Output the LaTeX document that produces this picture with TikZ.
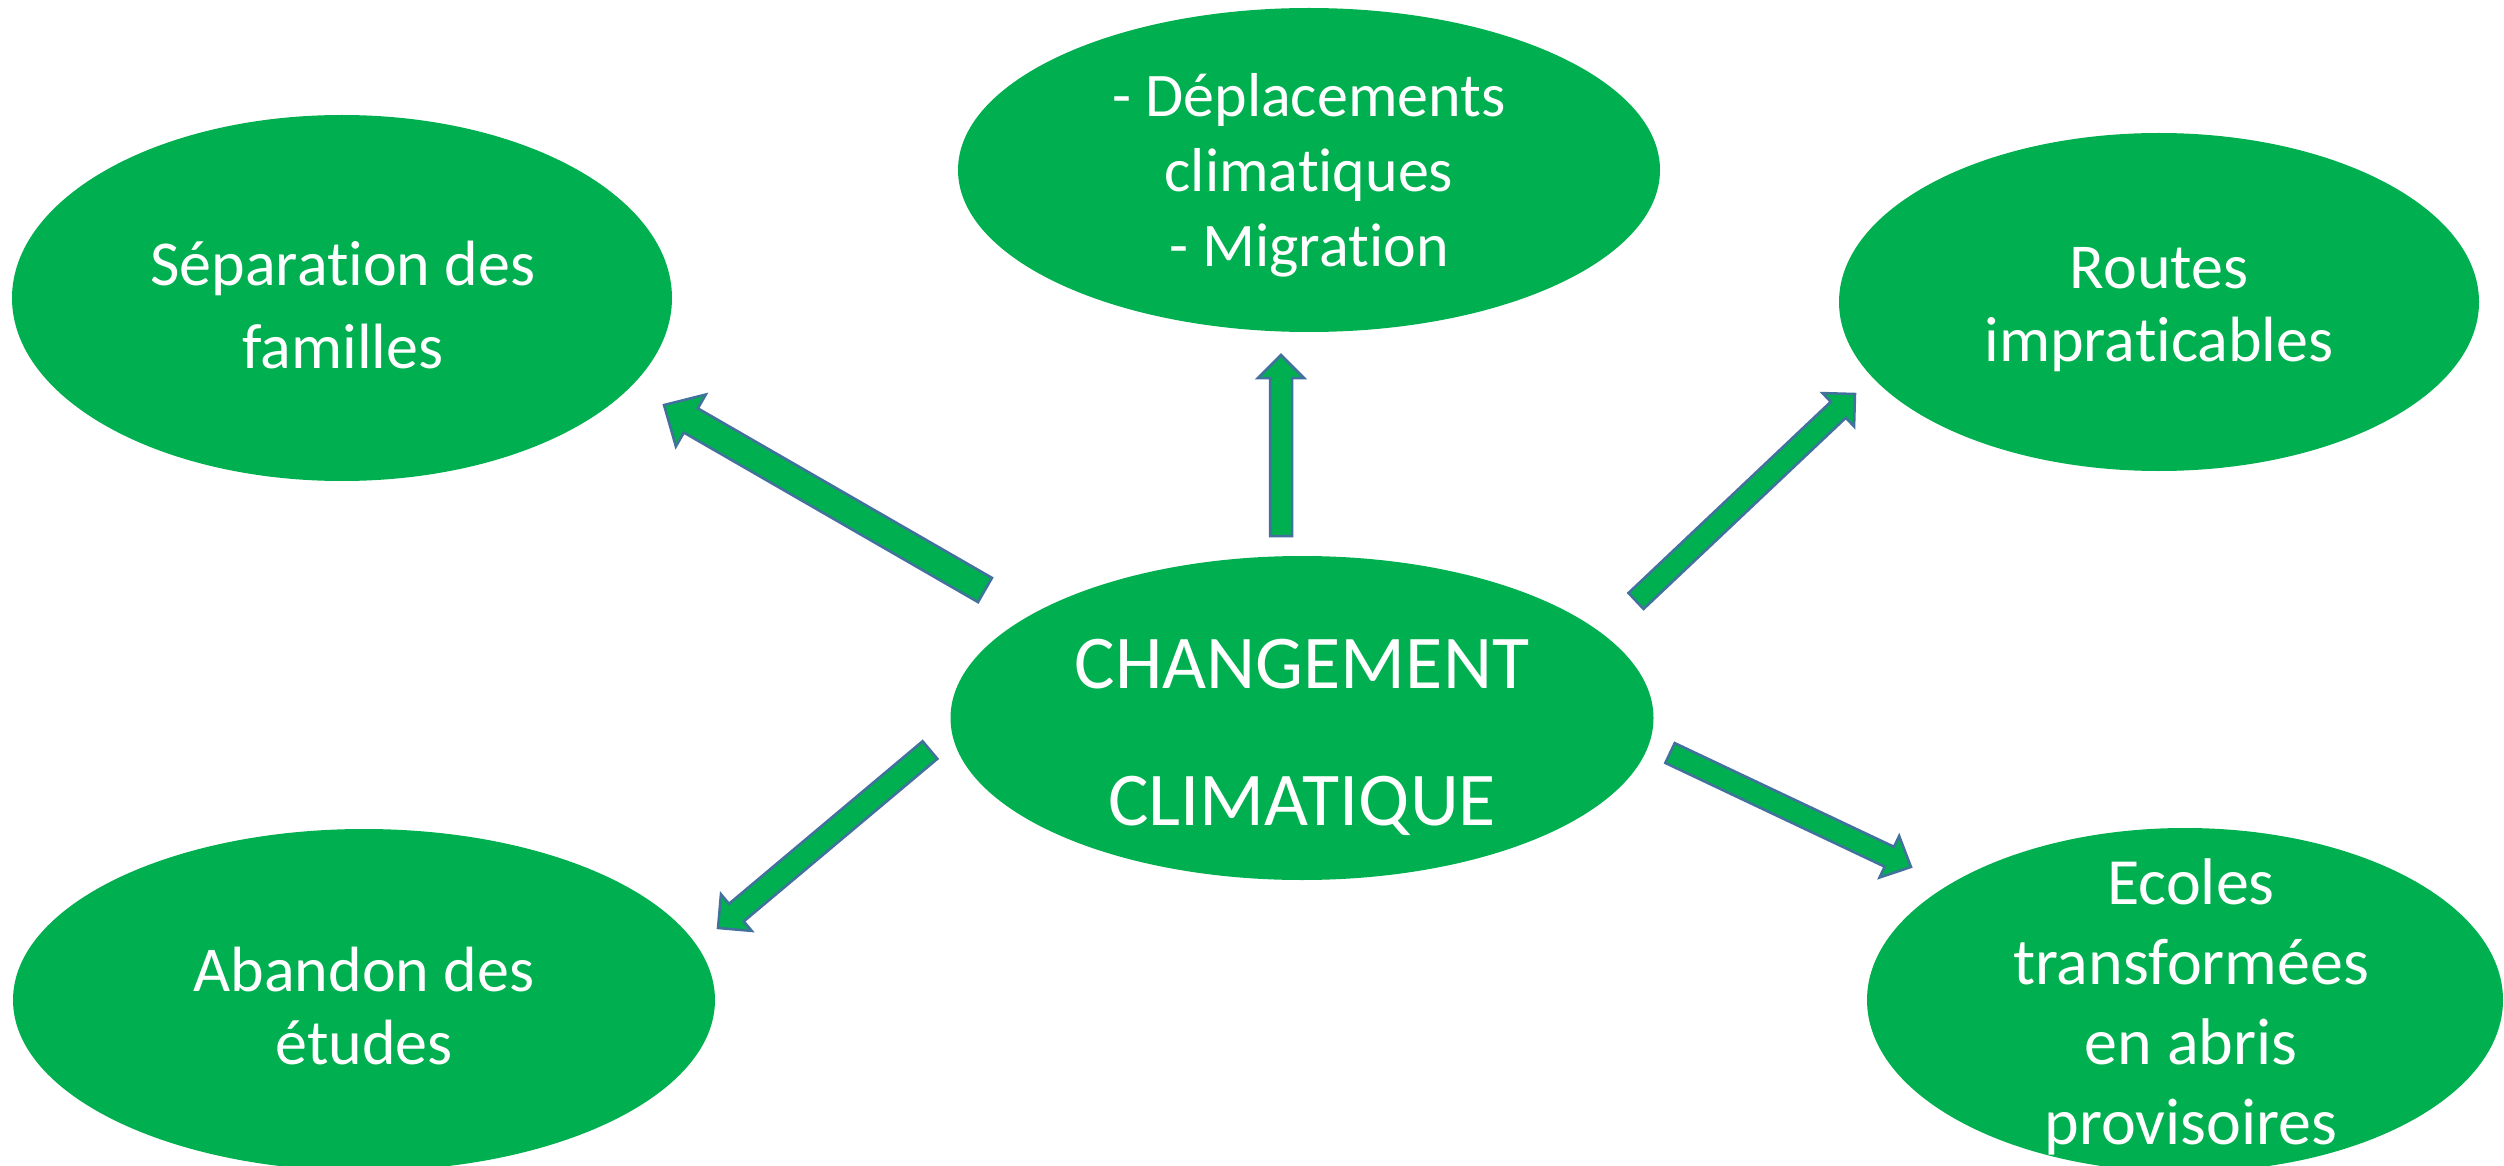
\documentclass[tikz,border=0pt]{standalone}
\usepackage{fontspec}
\setmainfont{Carlito}[Ligatures=NoCommon]
\usetikzlibrary{shapes.geometric,calc}
\definecolor{mygreen}{HTML}{00B050}
\definecolor{myblue}{HTML}{41719C}
\tikzset{
  blob/.style={ellipse, fill=mygreen, inner sep=0pt},
  txt/.style={text=white, align=center, inner sep=0pt},
  arr/.style={fill=mygreen, draw=myblue, line width=2.5pt, line join=miter},
}
\newcommand\blockarrow[5]{%
  \coordinate (#1-b) at ($(#2)!#5!(#1)$);
  \draw[arr] ($(#1)!#3!90:(#2)$) -- ($(#1-b)!#3!-90:(#1)$) -- ($(#1-b)!#4!-90:(#1)$) -- (#2)
    -- ($(#1-b)!#4!90:(#1)$) -- ($(#1-b)!#3!90:(#1)$) -- ($(#1)!#3!-90:(#2)$) -- cycle;
}
\begin{document}
\begin{tikzpicture}[x=1pt,y=-1pt]
\useasboundingbox (0,0) rectangle (2504,1166);
\fill[white] (0,0) rectangle (2504,1166);
% ellipses
\node[blob, minimum width=660pt, minimum height=366pt] (sep) at (342,298) {};
\node[blob, minimum width=702pt, minimum height=324pt] (dep) at (1309,170) {};
\node[blob, minimum width=640pt, minimum height=338pt] (rou) at (2159,302) {};
\node[blob, minimum width=703pt, minimum height=324pt] (cc) at (1302,718) {};
\node[blob, minimum width=702pt, minimum height=342pt] (aba) at (364,1000) {};
\node[blob, minimum width=636pt, minimum height=344pt] (eco) at (2185,1000) {};
% texts
\node[txt, font=\fontsize{64}{83}\selectfont] (tsep) at (343,305) {Séparation des\\familles};
\node[txt, font=\fontsize{62}{75}\selectfont] (tdep) at (1309,175) {- Déplacements\\climatiques\\- Migration};
\node[txt, font=\fontsize{64}{73}\selectfont] (trou) at (2159,310) {Routes\\impraticables};
\node[txt, font=\fontsize{76}{137}\selectfont] (tcc) at (1302,737) {CHANGEMENT\\CLIMATIQUE};
\node[txt, font=\fontsize{64}{73}\selectfont] (taba) at (364,1006) {Abandon des\\études};
\node[txt, font=\fontsize{66}{80}\selectfont] (teco) at (2191,1007) {Ecoles\\transformées\\en abris\\provisoires};
% arrow coordinates
\coordinate (a1) at (985,590); \coordinate (a1t) at (664,405);
\coordinate (a2) at (1281,536); \coordinate (a2t) at (1281,355);
\coordinate (a3) at (1636,601); \coordinate (a3t) at (1855,394);
\coordinate (a4) at (930,750); \coordinate (a4t) at (718,928);
\coordinate (a5) at (1670,753); \coordinate (a5t) at (1911,867);
\blockarrow{a1}{a1t}{14pt}{30pt}{31pt}
\blockarrow{a2}{a2t}{11pt}{23pt}{23pt}
\blockarrow{a3}{a3t}{11pt}{23pt}{23pt}
\blockarrow{a4}{a4t}{11.5pt}{24pt}{24pt}
\blockarrow{a5}{a5t}{11pt}{23pt}{24pt}
\end{tikzpicture}
\end{document}
